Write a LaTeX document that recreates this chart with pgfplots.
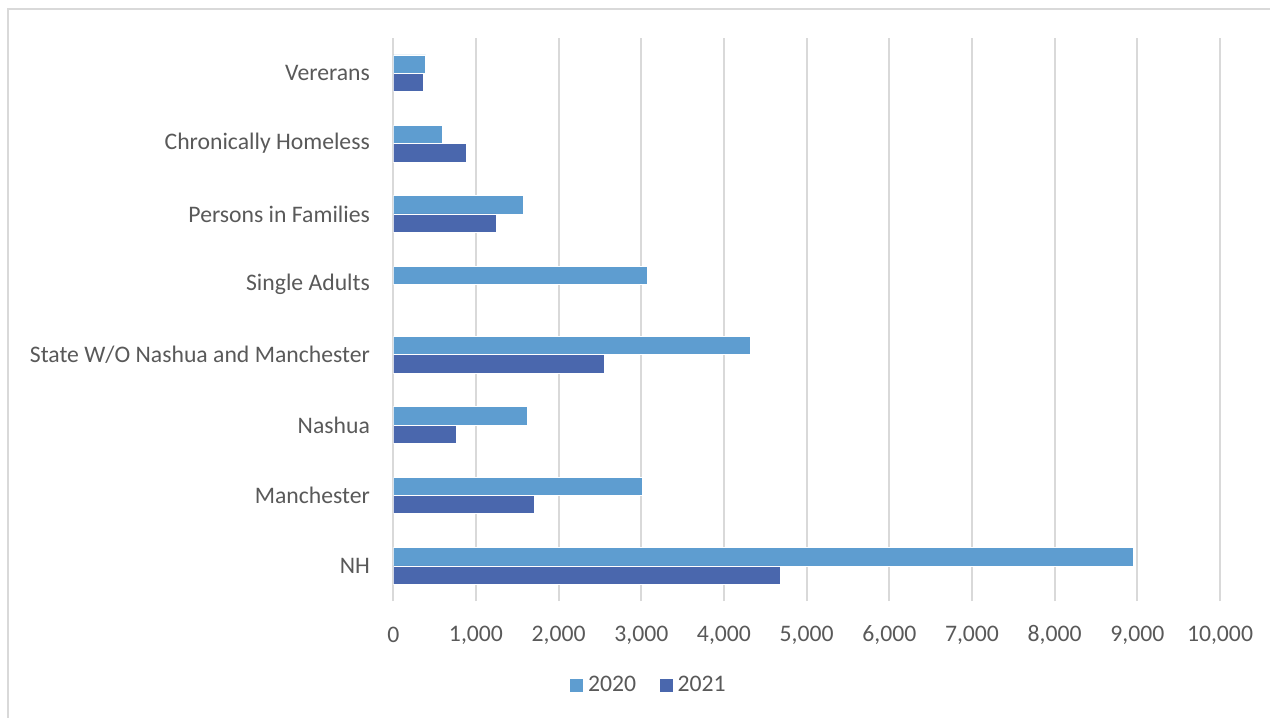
\documentclass[border=0pt]{standalone}
\usepackage{pgfplots}
\pgfplotsset{compat=1.18}
\usepackage{fontspec}
\setmainfont{Carlito}
\definecolor{c2020}{RGB}{94,157,208}
\definecolor{c2021}{RGB}{74,103,173}
\definecolor{txt}{RGB}{89,89,89}
\definecolor{gridc}{RGB}{217,217,217}
\begin{document}
\begin{tikzpicture}[x=1pt,y=1pt]
\useasboundingbox (0,0) rectangle (635,-359);
\draw[gridc, line width=0.7pt] (4,-4.5) rectangle (700,-400);
\begin{axis}[
  at={(196.65pt,-300.5pt)}, anchor=south west,
  scale only axis, width=413.35pt, height=281.5pt,
  xbar, bar width=9.15pt,
  xmin=0, xmax=10000, ymin=-0.5, ymax=7.5,
  xtick={0,1000,...,10000},
  scaled x ticks=false,
  ytick={0,...,7},
  yticklabels={NH\hspace{3pt}, Manchester, Nashua, State W/O Nashua and Manchester, Single Adults, Persons in Families\hspace{2.5pt}, Chronically Homeless, Vererans},
  axis line style={draw=none},
  major tick length=0pt,
  xmajorgrids, grid style={gridc, line width=0.9pt},
  tick label style={font=\fontsize{11.85}{14}\selectfont, text=txt},
  /pgf/number format/assume math mode=true,
  /pgf/number format/fixed,
  /pgf/number format/1000 sep={,},
  xticklabel style={anchor=center, yshift=-17pt},
  yticklabel style={anchor=east, inner sep=0pt, xshift=-11.5pt},
  legend style={draw=none, at={(0.31,-0.149)}, anchor=center, legend columns=2,
    font=\fontsize{11.85}{14}\selectfont, text=txt,
    /tikz/every even column/.append style={column sep=9.5pt}},
  legend image code/.code={\fill[#1] (0pt,-3.5pt) rectangle (7pt,3.5pt);},
]
\addplot[fill=c2020, draw=white, line width=0.3pt, bar shift=4.575pt] coordinates {
  (8956,0) (3017,1) (1617,2) (4315,3) (3073,4) (1573,5) (589,6) (392,7)};
\addplot[fill=c2021, draw=white, line width=0.3pt, bar shift=-4.575pt] coordinates {
  (4679,0) (1710,1) (762,2) (2553,3) (1242,5) (883,6) (359,7)};
\legend{2020,2021}
\end{axis}
\end{tikzpicture}
\end{document}
